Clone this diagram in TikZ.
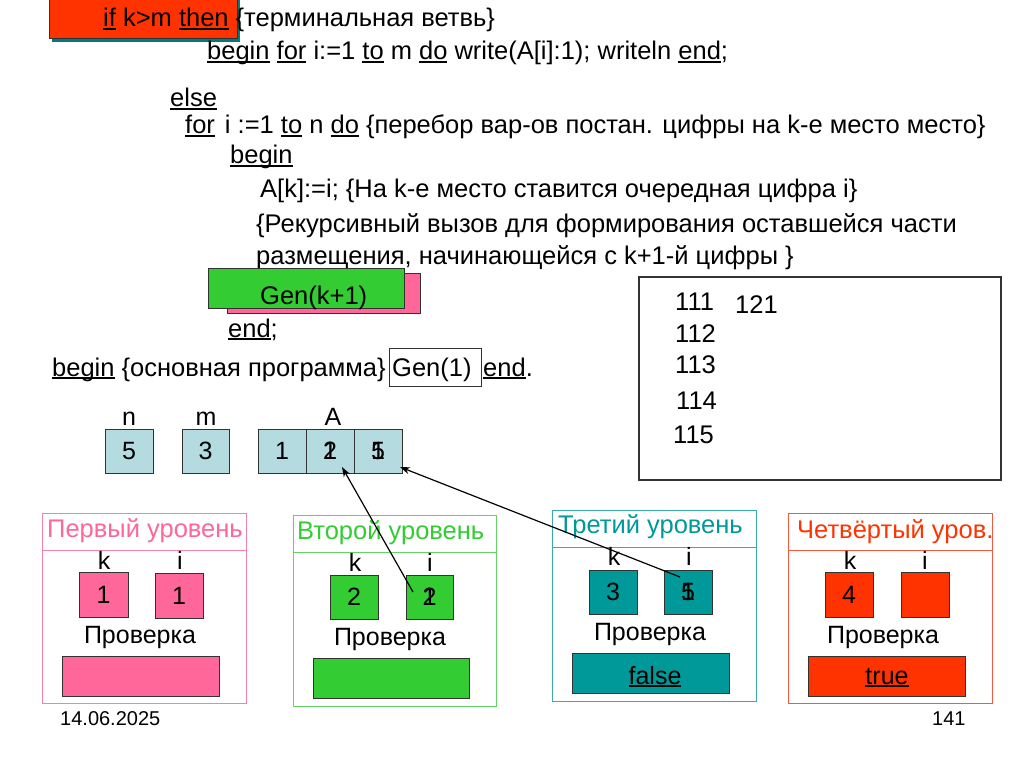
\documentclass[tikz,border=0pt]{standalone}
\usepackage{fontspec}
\setmainfont{Liberation Sans}
\usetikzlibrary{arrows.meta}
\definecolor{pinkc}{RGB}{255,102,153}
\definecolor{pinkf}{RGB}{245,130,170}
\definecolor{greenc}{RGB}{51,204,51}
\definecolor{greenf}{RGB}{102,210,102}
\definecolor{tealc}{RGB}{0,153,153}
\definecolor{tealf}{RGB}{60,170,170}
\definecolor{redc}{RGB}{255,51,0}
\definecolor{redf}{RGB}{245,90,60}
\definecolor{cellc}{RGB}{180,220,224}
\definecolor{edgec}{RGB}{50,50,50}
\newsavebox\kwbox
\newcommand\kw[1]{\sbox\kwbox{#1}\rlap{\rule[-2.6pt]{\wd\kwbox}{1.3pt}}\usebox\kwbox}
\tikzset{
  txt/.style={font=\fontsize{25.5}{30}\selectfont, anchor=base west, inner sep=0pt},
  ctxt/.style={font=\fontsize{25}{30}\selectfont, anchor=base, inner sep=0pt},
  cell/.style={draw=edgec, line width=1pt, minimum width=48pt, minimum height=44pt, inner sep=0pt, font=\fontsize{25}{30}\selectfont},
  digit/.style={inner sep=0pt, font=\fontsize{25}{30}\selectfont},
  arr/.style={line width=1.2pt, -{Stealth[length=10pt,width=7pt]}},
}
\begin{document}
\begin{tikzpicture}[x=1pt,y=-1pt]
\useasboundingbox (0,0) rectangle (1024,767);
% top red box with teal shadow
\fill[tealc!80!black] (52,-5) rectangle (240,42);
\draw[edgec, fill=redc, line width=0.8pt] (49,-5) rectangle (237,38);
\node[txt] (l1) at (103,27) {\kw{if} k>m \kw{then} \{терминальная ветвь\}};
\node[txt] (l2) at (207,60) {\kw{begin} \kw{for} i:=1 \kw{to} m \kw{do} write(A[i]:1); writeln \kw{end};};
\node[txt] (l3) at (170,107) {\kw{else}};
\node[txt] (l4) at (185,134) {\kw{for}\hspace{10pt}i :=1 \kw{to} n \kw{do} \{перебор вар-ов постан. цифры на k-е место место\}};
\node[txt] (l5) at (230,164) {\kw{begin}};
\node[txt] (l6) at (260,198) {A[k]:=i; \{На k-е место ставится очередная цифра i\}};
\node[txt] (l7) at (256,233) {\{Рекурсивный вызов для формирования оставшейся части};
\node[txt] (l8) at (256,264) {размещения, начинающейся с k+1-й цифры \}};
% Gen(k+1)
\draw[edgec, fill=pinkc, line width=1pt] (227,273) rectangle (420,313);
\draw[edgec, fill=greenc, line width=1pt] (208,268) rectangle (404,308);
\node[txt] (gk) at (260,304) {Gen(k+1)};
\node[txt] (l9) at (228,337) {\kw{end};};
% main program line
\node[txt] (m1) at (52,376) {\kw{begin} \{основная программа\}};
\node[draw=edgec, line width=1pt, minimum width=92pt, minimum height=38pt, inner sep=0pt] (g1) at (435,367) {};
\node[txt] (g1t) at (392,376) {Gen(1)};
\node[txt] (m2) at (483,376) {\kw{end}.};
% output box
\draw[edgec, line width=1.2pt] (639,277) rectangle (1001,480);
\node[txt] (o1) at (675,310) {111};
\node[txt] (o2) at (735,313) {121};
\node[txt] (o3) at (675,342) {112};
\node[txt] (o4) at (675,373) {113};
\node[txt] (o5) at (676,409) {114};
\node[txt] (o6) at (673,443) {115};
% variables
\node[ctxt] (ln) at (129,425) {n};
\node[ctxt] (lm) at (206,425) {m};
\node[ctxt] (lA) at (333,425) {A};
\node[cell, fill=cellc] (bn) at (129,451) {5};
\node[cell, fill=cellc, minimum width=47pt] (bm) at (205.5,451) {3};
\node[cell, fill=cellc] (a1) at (282,451) {1};
\node[cell, fill=cellc] (a2) at (330,451) {};
\node[cell, fill=cellc] (a3) at (378,451) {};
\node[digit] (a2x) at (a2.center) {1};
\node[digit] (a2y) at (a2.center) {2};
\node[digit] (a3x) at (a3.center) {1};
\node[digit] (a3y) at (a3.center) {5};
% level 1
\draw[pinkf, line width=1pt] (42,513) rectangle (246,703);
\draw[pinkf, line width=1pt] (42,550) -- (246,550);
\node[txt, text=pinkc] (t1) at (47,537) {Первый уровень};
\node[ctxt] (k1l) at (104,569) {k};
\node[ctxt] (i1l) at (180,569) {i};
\node[cell, fill=pinkc, minimum width=49pt, minimum height=45pt] (k1) at (103.5,594.5) {1};
\node[cell, fill=pinkc, minimum width=48pt, minimum height=45pt] (i1) at (179,596) {1};
\node[ctxt] (p1) at (140,643) {Проверка};
\draw[edgec, fill=pinkc, line width=1pt] (62,656) rectangle (219,696);
% level 2
\draw[greenf, line width=1pt] (293,515) rectangle (496,706);
\draw[greenf, line width=1pt] (293,552) -- (496,552);
\node[txt, text=greenc] (t2) at (297,539) {Второй уровень};
\node[ctxt] (k2l) at (355,571) {k};
\node[ctxt] (i2l) at (430,571) {i};
\node[cell, fill=greenc, minimum width=48pt, minimum height=44pt] (k2) at (354,597) {2};
\node[cell, fill=greenc, minimum width=47pt, minimum height=44pt] (i2) at (429.5,597) {};
\node[digit] (i2x) at (i2.center) {1};
\node[digit] (i2y) at (i2.center) {2};
\node[ctxt] (p2) at (390,645) {Проверка};
\draw[edgec, fill=greenc, line width=1pt] (313,658) rectangle (469,698);
% level 3
\draw[tealf, line width=1pt] (552,510) rectangle (756,701);
\draw[tealf, line width=1pt] (552,547) -- (756,547);
\node[txt, text=tealc] (t3) at (558,533) {Третий уровень};
\node[ctxt] (k3l) at (614,565) {k};
\node[ctxt] (i3l) at (689,565) {i};
\node[cell, fill=tealc, minimum width=48pt, minimum height=44pt] (k3) at (613,592) {3};
\node[cell, fill=tealc, minimum width=48pt, minimum height=44pt] (i3) at (688,592) {};
\node[digit] (i3x) at (i3.center) {1};
\node[digit] (i3y) at (i3.center) {5};
\node[ctxt] (p3) at (650,640) {Проверка};
\node[draw=edgec, fill=tealc, line width=1pt, minimum width=157pt, minimum height=40pt, inner sep=0pt] (r3) at (650.5,673) {};
\node[ctxt] (f3) at (655,684) {\kw{false}};
% level 4
\draw[redf, line width=1pt] (788,513) rectangle (992,703);
\draw[redf, line width=1pt] (788,550) -- (992,550);
\node[txt, text=redc] (t4) at (797,538) {Четвёртый уров.};
\node[ctxt] (k4l) at (850,569) {k};
\node[ctxt] (i4l) at (925,569) {i};
\node[cell, fill=redc, minimum width=48pt, minimum height=45pt] (k4) at (849,594.5) {4};
\node[cell, fill=redc, minimum width=48pt, minimum height=45pt] (i4) at (925,594.5) {};
\node[ctxt] (p4) at (883,643) {Проверка};
\node[draw=edgec, fill=redc, line width=1pt, minimum width=157pt, minimum height=40pt, inner sep=0pt] (r4) at (886.5,676) {};
\node[ctxt] (f4) at (887,684) {\kw{true}};
% arrows
\coordinate (s1) at (413,592);
\coordinate (e1) at (342,467);
\coordinate (s2) at (680,577);
\coordinate (e2) at (400,467);
\draw[arr] (s1) -- (e1);
\draw[arr] (s2) -- (e2);
% footer
\node[anchor=base west, inner sep=0pt, font=\fontsize{20}{24}\selectfont] (d) at (60,725) {14.06.2025};
\node[anchor=base west, inner sep=0pt, font=\fontsize{20}{24}\selectfont] (pg) at (932,725) {141};
\end{tikzpicture}
\end{document}
